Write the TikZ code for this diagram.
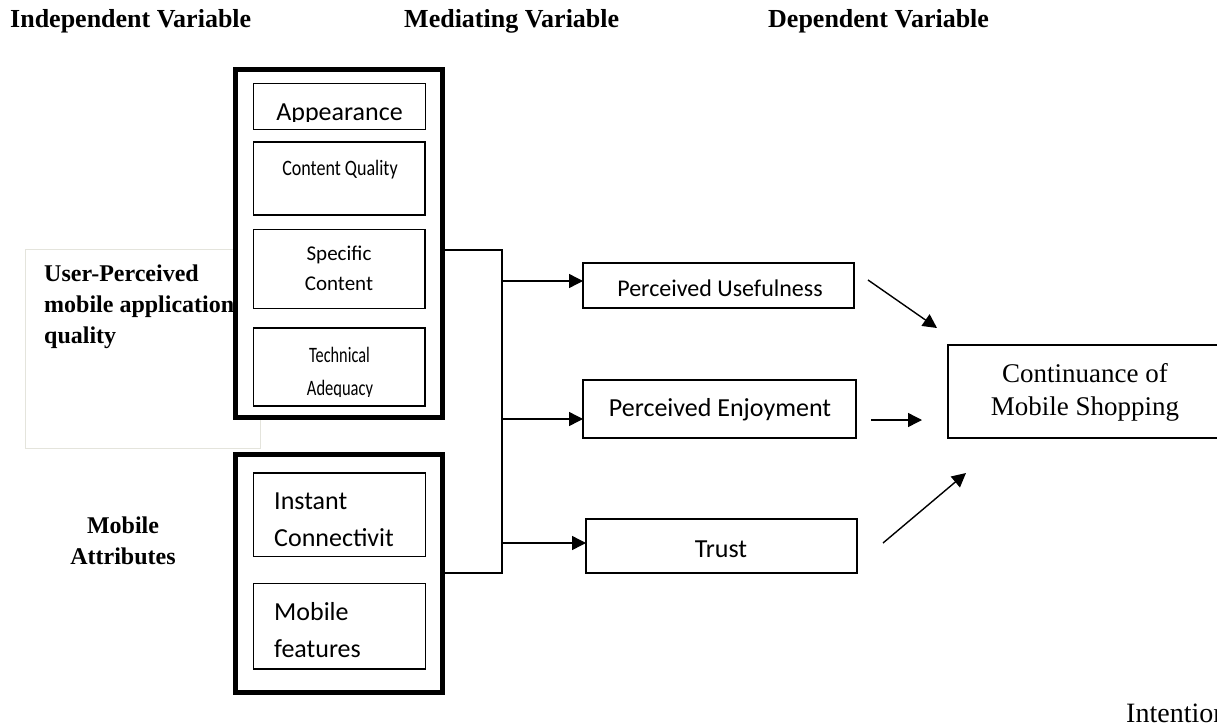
\documentclass[tikz,border=0pt]{standalone}
\usepackage{fontspec}
\setmainfont{Liberation Serif}
\newfontfamily\carl{Carlito}
\usepackage{graphicx}
\usetikzlibrary{arrows.meta}
\newcommand{\fsz}[1]{\fontsize{#1}{#1}\selectfont}
\definecolor{faintgrey}{RGB}{228,228,220}
\begin{document}
\begin{tikzpicture}[x=1pt,y=-1pt,
  thickbox/.style={draw, line width=5pt, fill=white, inner sep=0pt, outer sep=0pt},
  inbox/.style={draw, line width=1.3pt, inner sep=0pt, outer sep=0pt},
  greybox/.style={draw=faintgrey, line width=1pt, inner sep=0pt},
  conn/.style={line width=1.4pt},
  arr/.style={line width=1.4pt, -{Triangle[length=14pt,width=14pt]}},
  hdr/.style={anchor=base west, font=\fsz{26}\bfseries, inner sep=0pt},
  lbl/.style={font=\fsz{24}\bfseries, inner sep=0pt},
  cb/.style={font=\carl\fsz{26}, inner sep=0pt},
  cbs/.style={font=\carl\fsz{22}, inner sep=0pt, anchor=base},
  tm/.style={font=\fsz{27}, inner sep=0pt, anchor=base},
]
\clip (0,0) rectangle (1217,725);

% headers
\node[hdr] (h1) at (10,28) {Independent Variable};
\node[hdr] (h2) at (404,28) {Mediating Variable};
\node[hdr] (h3) at (768,28) {Dependent Variable};

% faint box and left labels
\node[greybox, minimum width=235pt, minimum height=199pt, anchor=north west] (gb) at (25,249) {};
\node[lbl, anchor=base west] (u1) at (44,281) {User-Perceived};
\node[lbl, anchor=base west] (u2) at (44,312) {mobile application};
\node[lbl, anchor=base west] (u3) at (44,343) {quality};
\node[lbl, anchor=base] (m1) at (123,533) {Mobile};
\node[lbl, anchor=base] (m2) at (123,564) {Attributes};

% thick group boxes
\node[thickbox, minimum width=207.5pt, minimum height=348.5pt] (g1) at (338.75,243.25) {};
\node[thickbox, minimum width=207.5pt, minimum height=238.5pt] (g2) at (338.75,573.25) {};

% inner boxes
\node[inbox, minimum width=172pt, minimum height=46pt] (app) at (339.5,106.5) {};
\node[inbox, minimum width=171.5pt, minimum height=73pt] (cq) at (339.25,178.5) {};
\node[inbox, minimum width=171.5pt, minimum height=79pt] (sc) at (339.25,269) {};
\node[inbox, minimum width=171.5pt, minimum height=78pt] (ta) at (339.25,367) {};
\node[inbox, minimum width=172pt, minimum height=83.5pt] (ic) at (339.5,514.75) {};
\node[inbox, minimum width=172pt, minimum height=85.5pt] (mf) at (339.5,626.25) {};

% inner texts
\begin{scope}
  \clip (253,83) rectangle (426,121);
  \node[cb, anchor=base] (tapp) at (339.5,120) {Appearance};
\end{scope}
\node[cbs] (tcq) at (340,175) {\scalebox{0.82}[1]{Content Quality}};
\node[cbs, font=\carl\fsz{21}] (tsc1) at (339,260) {Specific};
\node[cbs, font=\carl\fsz{21}] (tsc2) at (339,290) {Content};
\node[cbs] (tta1) at (339.5,362) {\scalebox{0.74}[1]{Technical}};
\begin{scope}
  \clip (253,328) rectangle (426,396);
  \node[cbs] (tta2) at (340,395) {\scalebox{0.75}[1]{Adequacy}};
\end{scope}
\node[cb, anchor=base west] (tic1) at (274,509) {Instant};
\node[cb, anchor=base west] (tic2) at (274,546) {Connectivit};
\node[cb, anchor=base west] (tmf1) at (274,620) {Mobile};
\node[cb, anchor=base west] (tmf2) at (274,657) {features};

% mediators
\node[inbox, minimum width=271pt, minimum height=45pt] (pu) at (718.5,285.5) {};
\node[cb, font=\carl\fsz{24}, anchor=base] (tpu) at (720,296) {Perceived Usefulness};
\node[inbox, minimum width=273pt, minimum height=58pt] (pe) at (719.5,409) {};
\node[cb, anchor=base] (tpe) at (720,416) {Perceived Enjoyment};
\node[inbox, minimum width=271pt, minimum height=54pt] (tr) at (721.5,546) {};
\node[cb, anchor=base] (ttr) at (721,557) {Trust};

% dependent
\node[inbox, minimum width=292pt, minimum height=93pt] (cm) at (1094,391.5) {};
\node[tm] (tcm1) at (1085,382) {Continuance of};
\node[tm] (tcm2) at (1085,415) {Mobile Shopping};
\node[font=\fsz{28}, inner sep=0pt, anchor=base west] (tint) at (1126,722) {Intention};

% connector
\coordinate (ja) at (502,250);
\coordinate (jb) at (502,573);
\draw[conn] (g1.east |- ja) -- (ja) -- (jb) -- (g2.east |- jb);
\coordinate (b1) at (502,281);
\coordinate (b2) at (502,419);
\coordinate (b3) at (502,543);
\draw[arr] (b1) -- (b1 -| pu.west);
\draw[arr] (b2) -- (b2 -| pe.west);
\draw[arr] (b3) -- (b3 -| tr.west);

% arrows to dependent
\coordinate (d1s) at (868,280);
\coordinate (d1e) at (937,328);
\coordinate (d2s) at (871,420);
\coordinate (d2e) at (922,420);
\coordinate (d3s) at (883,543);
\coordinate (d3e) at (966,473);
\draw[arr] (d1s) -- (d1e);
\draw[arr] (d2s) -- (d2e);
\draw[arr] (d3s) -- (d3e);
\end{tikzpicture}
\end{document}
